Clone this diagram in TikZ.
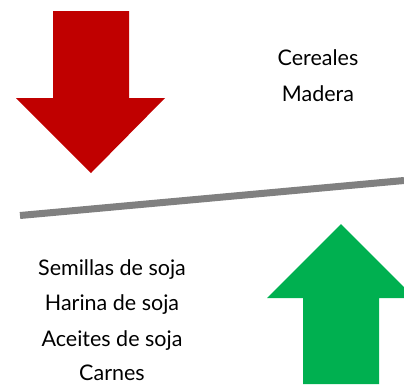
\documentclass[tikz,border=0pt]{standalone}
\usepackage{fontspec}
\setmainfont{Lato}
\definecolor{arrowred}{HTML}{C00000}
\definecolor{arrowgreen}{HTML}{00B050}
\definecolor{beamgray}{HTML}{808080}
\begin{document}
\begin{tikzpicture}[x=1pt, y=-1pt]
        % Common styles
        \tikzstyle{label}=[anchor=base, font=\fontsize{21.5}{26}\selectfont, inner sep=0pt]
        \tikzstyle{beam}=[line width=7pt, beamgray]
        \useasboundingbox (0,0) rectangle (404,384);

        % --- Down arrow (red) ---
        \fill[arrowred] (53,11) -- (129,11) -- (129,98) -- (165,98) -- (91,173)
            -- (16,98) -- (53,98) -- cycle;

        % --- Up arrow (green) ---
        \fill[arrowgreen] (303,384) -- (303,298) -- (267,298) -- (341,224)
            -- (415,298) -- (379,298) -- (379,384) -- cycle;

        % Tilted beam
        \coordinate (beamleft) at (20,215.5);
        \coordinate (beamright) at (404,180.5);
        \draw[beam] (beamleft) -- (beamright);

        % Top right labels
        \node[label] (cereales) at (318,65) {Cereales};
        \node[label] (madera) at (318,101.5) {Madera};

        % Bottom left labels
        \node[label] (semillas) at (112,275) {Semillas de soja};
        \node[label] (harina) at (112,310.5) {Harina de soja};
        \node[label] (aceites) at (112,346) {Aceites de soja};
        \node[label] (carnes) at (112,380) {Carnes};

    \end{tikzpicture}
\end{document}
